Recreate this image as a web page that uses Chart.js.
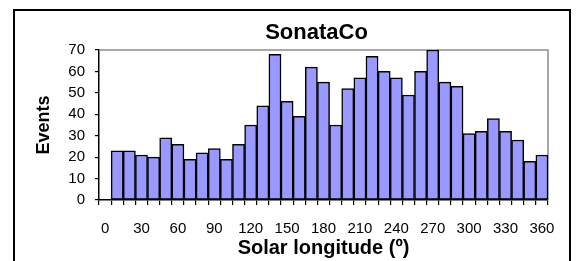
<!DOCTYPE html>
<html>
<head>
<meta charset="utf-8">
<script src="https://cdn.jsdelivr.net/npm/chart.js@4/dist/chart.umd.min.js"></script>
<style>
  html, body { margin: 0; padding: 0; background: #ffffff; }
  #wrap { width: 578px; height: 261px; }
</style>
</head>
<body>
<div id="wrap"><canvas id="c" width="578" height="261"></canvas></div>
<script>
const chartTitle = 'SonataCo';
const xAxisTitle = 'Solar longitude (º)';
const yAxisTitle = 'Events';
const categories = [0, 10, 20, 30, 40, 50, 60, 70, 80, 90, 100, 110, 120, 130, 140, 150, 160, 170, 180,
  190, 200, 210, 220, 230, 240, 250, 260, 270, 280, 290, 300, 310, 320, 330, 340, 350, 360];
const events = [0, 23, 23, 21, 20, 29, 26, 19, 22, 24, 19, 26, 35, 44, 68, 46, 39, 62, 55,
  35, 52, 57, 67, 60, 57, 49, 60, 70, 55, 53, 31, 32, 38, 32, 28, 18, 21];
const xTickLabels = [0, 30, 60, 90, 120, 150, 180, 210, 240, 270, 300, 330, 360];
const yTicks = [0, 10, 20, 30, 40, 50, 60, 70];

const FONT = "'Liberation Sans', Arial, Helvetica, sans-serif";

const frame = {
  id: 'frame',
  afterLayout(chart) {
    // Excel centres the title on the chart area, which extends past the plot
    if (chart.titleBlock) {
      chart.titleBlock.left = 55;
      chart.titleBlock.right = 578;
    }
  },
  beforeDraw(chart) {
    const ctx = chart.ctx;
    ctx.save();
    ctx.fillStyle = '#ffffff';
    ctx.fillRect(0, 0, chart.width, chart.height);
    ctx.strokeStyle = '#000000';
    ctx.lineWidth = 2;
    ctx.strokeRect(14, 10, 556, 270);
    ctx.restore();
  },
  beforeDatasetsDraw(chart) {
    const a = chart.chartArea;
    const ctx = chart.ctx;
    ctx.save();
    ctx.strokeStyle = '#8c8c8c';
    ctx.lineWidth = 1.5;
    ctx.beginPath();
    ctx.moveTo(a.left, a.top);
    ctx.lineTo(a.right, a.top);
    ctx.lineTo(a.right, a.bottom);
    ctx.stroke();
    ctx.restore();
  }
};

new Chart(document.getElementById('c'), {
  type: 'bar',
  data: {
    labels: categories,
    datasets: [{
      data: events,
      backgroundColor: '#9999ff',
      borderColor: '#000000',
      borderWidth: 1.5,
      borderSkipped: false,
      barPercentage: 1,
      categoryPercentage: 1
    }]
  },
  options: {
    responsive: false,
    animation: false,
    events: [],
    layout: { padding: { left: 0, right: 30, top: 0, bottom: 0 } },
    plugins: {
      legend: { display: false },
      tooltip: { enabled: false },
      title: {
        display: true,
        text: chartTitle,
        color: '#000000',
        font: { family: FONT, size: 22, weight: 'bold', lineHeight: 1.2 },
        padding: { top: 19.3, bottom: 4.3 }
      }
    },
    scales: {
      x: {
        type: 'category',
        offset: true,
        grid: {
          display: true, offset: true, drawOnChartArea: false, drawTicks: true,
          tickLength: 5, color: '#000000', lineWidth: 1.2
        },
        border: { display: true, color: '#000000', width: 1.5 },
        ticks: {
          autoSkip: false, maxRotation: 0, minRotation: 0, padding: 15,
          color: '#000000',
          font: { family: FONT, size: 15 },
          callback: function (v, i) {
            const c = categories[i];
            return xTickLabels.includes(c) ? String(c) : '';
          }
        },
        title: {
          display: true, text: xAxisTitle, color: '#000000',
          font: { family: FONT, size: 20, weight: 'bold', lineHeight: 1.2 },
          padding: { top: 0, bottom: 1 }
        },
        afterFit(s) { s.height = 61; }
      },
      y: {
        min: 0, max: 70,
        afterBuildTicks(s) { s.ticks = yTicks.map(v => ({ value: v })); },
        grid: {
          display: true, drawOnChartArea: false, drawTicks: true,
          tickLength: 4, color: '#000000', lineWidth: 1.2
        },
        border: { display: true, color: '#000000', width: 1.5 },
        ticks: {
          padding: 10, color: '#000000',
          font: { family: FONT, size: 15 }
        },
        title: {
          display: true, text: yAxisTitle, color: '#000000',
          font: { family: FONT, size: 18, weight: 'bold', lineHeight: 1.2 },
          padding: { top: 33, bottom: 0 }
        },
        afterFit(s) { s.width = 99; }
      }
    }
  },
  plugins: [frame]
});
</script>
</body>
</html>
